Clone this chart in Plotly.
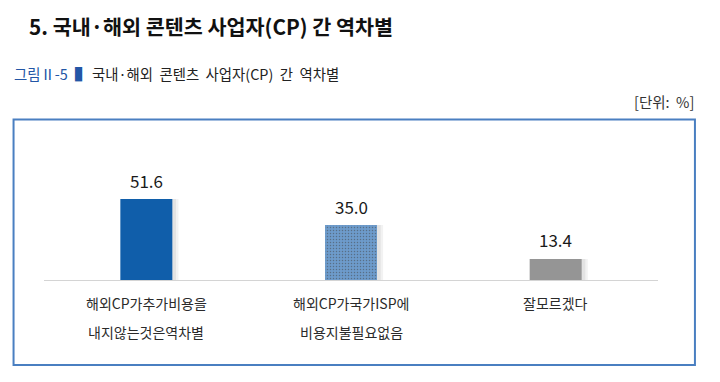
import plotly.graph_objects as go

categories = ["해외CP가추가비용을\n내지않는것은역차별", "해외CP가국가ISP에\n비용지불필요없음", "잘모르겠다"]
values = [51.6, 35.0, 13.4]
bar_colors = ["#105eaa", "#6d9bcb", "#959595"]

title_text = "5. 국내·해외 콘텐츠 사업자(CP) 간 역차별"
fig_label = "그림Ⅱ-5"
fig_caption = "국내·해외&nbsp; 콘텐츠&nbsp; 사업자(CP)&nbsp; 간&nbsp; 역차별"
unit_text = "[단위:&nbsp; %]"

FONT = "Noto Sans CJK KR"
W, H = 720, 382
L, R_EDGE, B_LINE, T_LINE = 43.5, 658.5, 280, 130

def px(p):
    return (p - L) / (R_EDGE - L)

def py(p):
    return (B_LINE - p) / (B_LINE - T_LINE)

bw = 0.254
fig = go.Figure()
# soft shadow (two layers to imitate blur)
for off, alpha in [(0.030, 0.05), (0.018, 0.06)]:
    fig.add_trace(go.Bar(
        x=list(range(len(values))), y=values, width=bw, offset=-bw / 2 + off,
        marker=dict(color=f"rgba(0,0,0,{alpha})", line=dict(width=0)),
        hoverinfo="skip", showlegend=False))
fig.add_trace(go.Bar(
    x=list(range(len(values))), y=values, width=bw, offset=-bw / 2,
    marker=dict(color=bar_colors, line=dict(width=0),
                pattern=dict(shape=["", ".", ""], fgcolor="#79a4d0", size=3, solidity=0.2)),
    showlegend=False))

# value labels
for i, v in enumerate(values):
    fig.add_annotation(x=i, y=v, text=f"{v:.1f}", showarrow=False, yshift=19,
                       font=dict(family=FONT, size=17, color="#1a1a1a"), yanchor="middle")

# category labels (two lines, wide line spacing)
for i, c in enumerate(categories):
    lines = c.split("\n")
    for j, ln in enumerate(lines):
        fig.add_annotation(x=i, y=0, yref="y", text=ln, showarrow=False,
                           yshift=-(23 + 29 * j), yanchor="middle",
                           font=dict(family=FONT, size=14, color="#2a2a2a"))

# header texts
fig.add_annotation(xref="paper", yref="paper", x=px(26), y=py(26), xanchor="left", yanchor="middle",
                   text=f"<b>{title_text}</b>", showarrow=False,
                   font=dict(family=FONT, size=20.7, color="#111111"))
fig.add_annotation(xref="paper", yref="paper", x=px(11), y=py(73), xanchor="left", yanchor="middle",
                   text=f"<span style='color:#2356a6'>{fig_label}▐</span>&nbsp;&nbsp; {fig_caption}", showarrow=False,
                   font=dict(family=FONT, size=14.4, color="#222222"))
fig.add_annotation(xref="paper", yref="paper", x=px(697), y=py(101), xanchor="right", yanchor="middle",
                   text=unit_text, showarrow=False,
                   font=dict(family=FONT, size=14.5, color="#333333"))

# frame box
fig.add_shape(type="rect", xref="paper", yref="paper",
              x0=px(13), x1=px(695.5), y0=py(365), y1=py(119.5),
              line=dict(color="#4a7fc1", width=2), fillcolor="rgba(0,0,0,0)", layer="below")

ymax = (B_LINE - T_LINE) / (81.0 / 51.6)
fig.update_layout(
    width=W, height=H, margin=dict(l=L, r=W - R_EDGE, t=T_LINE, b=H - B_LINE),
    paper_bgcolor="white", plot_bgcolor="white", barmode="overlay",
    font=dict(family=FONT),
    xaxis=dict(range=[-0.5, 2.5], showticklabels=False, showgrid=False, zeroline=False,
               showline=True, linecolor="#d4d4d4", linewidth=1, ticks="", fixedrange=True),
    yaxis=dict(range=[0, ymax], visible=False, fixedrange=True),
)

fig.write_html("out.html")
